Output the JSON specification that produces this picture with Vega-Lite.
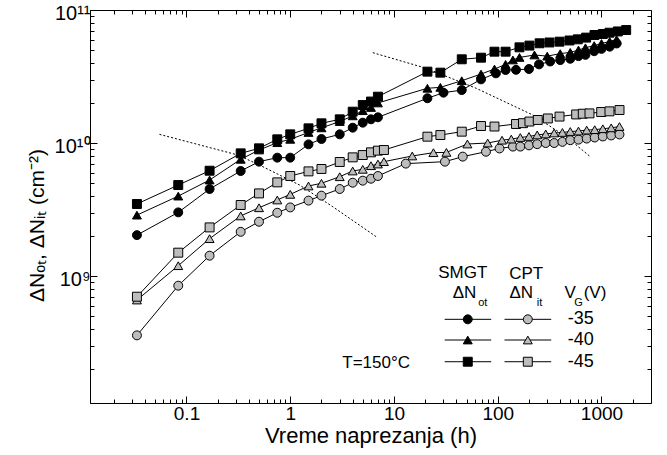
{
  "$schema": "https://vega.github.io/schema/vega-lite/v6.json",
  "width": 561,
  "height": 393,
  "autosize": "none",
  "padding": {"left": 90, "top": 10, "right": 15, "bottom": 52},
  "background": "white",
  "config": {
    "view": {"stroke": "black", "strokeWidth": 1},
    "font": "Liberation Sans"
  },
  "datasets": {
    "pts": [
      {"kind": "SMGT", "vg": "-35", "t": 0.0333, "n": 2.03e9},
      {"kind": "SMGT", "vg": "-35", "t": 0.0833, "n": 3.01e9},
      {"kind": "SMGT", "vg": "-35", "t": 0.167, "n": 4.51e9},
      {"kind": "SMGT", "vg": "-35", "t": 0.333, "n": 6.16e9},
      {"kind": "SMGT", "vg": "-35", "t": 0.5, "n": 7.24e9},
      {"kind": "SMGT", "vg": "-35", "t": 0.75, "n": 7.76e9},
      {"kind": "SMGT", "vg": "-35", "t": 1, "n": 7.76e9},
      {"kind": "SMGT", "vg": "-35", "t": 1.5, "n": 9.77e9},
      {"kind": "SMGT", "vg": "-35", "t": 2, "n": 1.072e10},
      {"kind": "SMGT", "vg": "-35", "t": 3, "n": 1.162e10},
      {"kind": "SMGT", "vg": "-35", "t": 4, "n": 1.304e10},
      {"kind": "SMGT", "vg": "-35", "t": 5, "n": 1.422e10},
      {"kind": "SMGT", "vg": "-35", "t": 6, "n": 1.507e10},
      {"kind": "SMGT", "vg": "-35", "t": 7, "n": 1.56e10},
      {"kind": "SMGT", "vg": "-35", "t": 21, "n": 2.17e10},
      {"kind": "SMGT", "vg": "-35", "t": 30, "n": 2.39e10},
      {"kind": "SMGT", "vg": "-35", "t": 45, "n": 2.5e10},
      {"kind": "SMGT", "vg": "-35", "t": 69, "n": 3.01e10},
      {"kind": "SMGT", "vg": "-35", "t": 96, "n": 3.34e10},
      {"kind": "SMGT", "vg": "-35", "t": 119, "n": 3.54e10},
      {"kind": "SMGT", "vg": "-35", "t": 150, "n": 3.55e10},
      {"kind": "SMGT", "vg": "-35", "t": 200, "n": 3.6e10},
      {"kind": "SMGT", "vg": "-35", "t": 250, "n": 3.9e10},
      {"kind": "SMGT", "vg": "-35", "t": 320, "n": 4.1e10},
      {"kind": "SMGT", "vg": "-35", "t": 400, "n": 4.2e10},
      {"kind": "SMGT", "vg": "-35", "t": 500, "n": 4.3e10},
      {"kind": "SMGT", "vg": "-35", "t": 600, "n": 4.5e10},
      {"kind": "SMGT", "vg": "-35", "t": 700, "n": 4.6e10},
      {"kind": "SMGT", "vg": "-35", "t": 850, "n": 4.9e10},
      {"kind": "SMGT", "vg": "-35", "t": 1000, "n": 5.1e10},
      {"kind": "SMGT", "vg": "-35", "t": 1200, "n": 5.3e10},
      {"kind": "SMGT", "vg": "-35", "t": 1400, "n": 5.6e10},

      {"kind": "SMGT", "vg": "-40", "t": 0.0333, "n": 2.87e9},
      {"kind": "SMGT", "vg": "-40", "t": 0.0833, "n": 3.99e9},
      {"kind": "SMGT", "vg": "-40", "t": 0.167, "n": 5.27e9},
      {"kind": "SMGT", "vg": "-40", "t": 0.333, "n": 7.54e9},
      {"kind": "SMGT", "vg": "-40", "t": 0.5, "n": 8.86e9},
      {"kind": "SMGT", "vg": "-40", "t": 0.75, "n": 1.006e10},
      {"kind": "SMGT", "vg": "-40", "t": 1, "n": 1.066e10},
      {"kind": "SMGT", "vg": "-40", "t": 1.5, "n": 1.2e10},
      {"kind": "SMGT", "vg": "-40", "t": 2, "n": 1.3e10},
      {"kind": "SMGT", "vg": "-40", "t": 3, "n": 1.45e10},
      {"kind": "SMGT", "vg": "-40", "t": 4, "n": 1.6e10},
      {"kind": "SMGT", "vg": "-40", "t": 5, "n": 1.75e10},
      {"kind": "SMGT", "vg": "-40", "t": 6, "n": 1.85e10},
      {"kind": "SMGT", "vg": "-40", "t": 7, "n": 2.0e10},
      {"kind": "SMGT", "vg": "-40", "t": 21, "n": 2.58e10},
      {"kind": "SMGT", "vg": "-40", "t": 28, "n": 2.62e10},
      {"kind": "SMGT", "vg": "-40", "t": 45, "n": 2.94e10},
      {"kind": "SMGT", "vg": "-40", "t": 69, "n": 3.3e10},
      {"kind": "SMGT", "vg": "-40", "t": 93, "n": 3.6e10},
      {"kind": "SMGT", "vg": "-40", "t": 119, "n": 3.9e10},
      {"kind": "SMGT", "vg": "-40", "t": 140, "n": 4.21e10},
      {"kind": "SMGT", "vg": "-40", "t": 162, "n": 4.4e10},
      {"kind": "SMGT", "vg": "-40", "t": 226, "n": 4.59e10},
      {"kind": "SMGT", "vg": "-40", "t": 300, "n": 4.5e10},
      {"kind": "SMGT", "vg": "-40", "t": 400, "n": 4.7e10},
      {"kind": "SMGT", "vg": "-40", "t": 500, "n": 4.8e10},
      {"kind": "SMGT", "vg": "-40", "t": 600, "n": 5.0e10},
      {"kind": "SMGT", "vg": "-40", "t": 700, "n": 5.2e10},
      {"kind": "SMGT", "vg": "-40", "t": 850, "n": 5.4e10},
      {"kind": "SMGT", "vg": "-40", "t": 1000, "n": 5.6e10},
      {"kind": "SMGT", "vg": "-40", "t": 1200, "n": 5.8e10},
      {"kind": "SMGT", "vg": "-40", "t": 1400, "n": 6.0e10},

      {"kind": "SMGT", "vg": "-45", "t": 0.0333, "n": 3.48e9},
      {"kind": "SMGT", "vg": "-45", "t": 0.0833, "n": 4.83e9},
      {"kind": "SMGT", "vg": "-45", "t": 0.167, "n": 6.19e9},
      {"kind": "SMGT", "vg": "-45", "t": 0.333, "n": 8.36e9},
      {"kind": "SMGT", "vg": "-45", "t": 0.5, "n": 9.12e9},
      {"kind": "SMGT", "vg": "-45", "t": 0.75, "n": 1.066e10},
      {"kind": "SMGT", "vg": "-45", "t": 1, "n": 1.162e10},
      {"kind": "SMGT", "vg": "-45", "t": 1.5, "n": 1.289e10},
      {"kind": "SMGT", "vg": "-45", "t": 2, "n": 1.406e10},
      {"kind": "SMGT", "vg": "-45", "t": 3, "n": 1.507e10},
      {"kind": "SMGT", "vg": "-45", "t": 4, "n": 1.72e10},
      {"kind": "SMGT", "vg": "-45", "t": 5, "n": 1.93e10},
      {"kind": "SMGT", "vg": "-45", "t": 6, "n": 2.05e10},
      {"kind": "SMGT", "vg": "-45", "t": 7, "n": 2.23e10},
      {"kind": "SMGT", "vg": "-45", "t": 21, "n": 3.44e10},
      {"kind": "SMGT", "vg": "-45", "t": 28, "n": 3.38e10},
      {"kind": "SMGT", "vg": "-45", "t": 45, "n": 4.26e10},
      {"kind": "SMGT", "vg": "-45", "t": 69, "n": 4.38e10},
      {"kind": "SMGT", "vg": "-45", "t": 93, "n": 4.86e10},
      {"kind": "SMGT", "vg": "-45", "t": 119, "n": 4.86e10},
      {"kind": "SMGT", "vg": "-45", "t": 162, "n": 5.24e10},
      {"kind": "SMGT", "vg": "-45", "t": 202, "n": 5.4e10},
      {"kind": "SMGT", "vg": "-45", "t": 253, "n": 5.62e10},
      {"kind": "SMGT", "vg": "-45", "t": 315, "n": 5.7e10},
      {"kind": "SMGT", "vg": "-45", "t": 394, "n": 5.78e10},
      {"kind": "SMGT", "vg": "-45", "t": 491, "n": 5.9e10},
      {"kind": "SMGT", "vg": "-45", "t": 591, "n": 6.02e10},
      {"kind": "SMGT", "vg": "-45", "t": 711, "n": 6.2e10},
      {"kind": "SMGT", "vg": "-45", "t": 856, "n": 6.49e10},
      {"kind": "SMGT", "vg": "-45", "t": 1030, "n": 6.6e10},
      {"kind": "SMGT", "vg": "-45", "t": 1194, "n": 6.75e10},
      {"kind": "SMGT", "vg": "-45", "t": 1437, "n": 6.9e10},
      {"kind": "SMGT", "vg": "-45", "t": 1729, "n": 7.07e10},

      {"kind": "CPT", "vg": "-35", "t": 0.0333, "n": 3.58e8},
      {"kind": "CPT", "vg": "-35", "t": 0.0833, "n": 8.46e8},
      {"kind": "CPT", "vg": "-35", "t": 0.167, "n": 1.422e9},
      {"kind": "CPT", "vg": "-35", "t": 0.333, "n": 2.15e9},
      {"kind": "CPT", "vg": "-35", "t": 0.5, "n": 2.56e9},
      {"kind": "CPT", "vg": "-35", "t": 0.75, "n": 2.99e9},
      {"kind": "CPT", "vg": "-35", "t": 1, "n": 3.28e9},
      {"kind": "CPT", "vg": "-35", "t": 1.5, "n": 3.69e9},
      {"kind": "CPT", "vg": "-35", "t": 2, "n": 4.02e9},
      {"kind": "CPT", "vg": "-35", "t": 3, "n": 4.51e9},
      {"kind": "CPT", "vg": "-35", "t": 4, "n": 5.03e9},
      {"kind": "CPT", "vg": "-35", "t": 5, "n": 5.21e9},
      {"kind": "CPT", "vg": "-35", "t": 6, "n": 5.39e9},
      {"kind": "CPT", "vg": "-35", "t": 7, "n": 5.65e9},
      {"kind": "CPT", "vg": "-35", "t": 13, "n": 7.0e9},
      {"kind": "CPT", "vg": "-35", "t": 31, "n": 7.24e9},
      {"kind": "CPT", "vg": "-35", "t": 46, "n": 7.9e9},
      {"kind": "CPT", "vg": "-35", "t": 77, "n": 8.6e9},
      {"kind": "CPT", "vg": "-35", "t": 104, "n": 9.1e9},
      {"kind": "CPT", "vg": "-35", "t": 140, "n": 9.4e9},
      {"kind": "CPT", "vg": "-35", "t": 165, "n": 9.4e9},
      {"kind": "CPT", "vg": "-35", "t": 200, "n": 9.6e9},
      {"kind": "CPT", "vg": "-35", "t": 240, "n": 9.8e9},
      {"kind": "CPT", "vg": "-35", "t": 290, "n": 1.0e10},
      {"kind": "CPT", "vg": "-35", "t": 350, "n": 1.0e10},
      {"kind": "CPT", "vg": "-35", "t": 420, "n": 1.02e10},
      {"kind": "CPT", "vg": "-35", "t": 500, "n": 1.05e10},
      {"kind": "CPT", "vg": "-35", "t": 600, "n": 1.06e10},
      {"kind": "CPT", "vg": "-35", "t": 720, "n": 1.08e10},
      {"kind": "CPT", "vg": "-35", "t": 860, "n": 1.1e10},
      {"kind": "CPT", "vg": "-35", "t": 1030, "n": 1.12e10},
      {"kind": "CPT", "vg": "-35", "t": 1240, "n": 1.14e10},
      {"kind": "CPT", "vg": "-35", "t": 1490, "n": 1.16e10},

      {"kind": "CPT", "vg": "-40", "t": 0.0333, "n": 6.6e8},
      {"kind": "CPT", "vg": "-40", "t": 0.0833, "n": 1.196e9},
      {"kind": "CPT", "vg": "-40", "t": 0.167, "n": 1.909e9},
      {"kind": "CPT", "vg": "-40", "t": 0.333, "n": 2.83e9},
      {"kind": "CPT", "vg": "-40", "t": 0.5, "n": 3.26e9},
      {"kind": "CPT", "vg": "-40", "t": 0.75, "n": 3.73e9},
      {"kind": "CPT", "vg": "-40", "t": 1, "n": 4.11e9},
      {"kind": "CPT", "vg": "-40", "t": 1.5, "n": 4.75e9},
      {"kind": "CPT", "vg": "-40", "t": 2, "n": 4.98e9},
      {"kind": "CPT", "vg": "-40", "t": 3, "n": 5.58e9},
      {"kind": "CPT", "vg": "-40", "t": 4, "n": 6.16e9},
      {"kind": "CPT", "vg": "-40", "t": 5, "n": 6.34e9},
      {"kind": "CPT", "vg": "-40", "t": 6, "n": 6.75e9},
      {"kind": "CPT", "vg": "-40", "t": 7, "n": 6.95e9},
      {"kind": "CPT", "vg": "-40", "t": 8, "n": 7.24e9},
      {"kind": "CPT", "vg": "-40", "t": 15, "n": 7.99e9},
      {"kind": "CPT", "vg": "-40", "t": 24, "n": 8.46e9},
      {"kind": "CPT", "vg": "-40", "t": 32, "n": 8.5e9},
      {"kind": "CPT", "vg": "-40", "t": 51, "n": 9.83e9},
      {"kind": "CPT", "vg": "-40", "t": 80, "n": 1.0e10},
      {"kind": "CPT", "vg": "-40", "t": 110, "n": 1.05e10},
      {"kind": "CPT", "vg": "-40", "t": 135, "n": 1.07e10},
      {"kind": "CPT", "vg": "-40", "t": 165, "n": 1.1e10},
      {"kind": "CPT", "vg": "-40", "t": 200, "n": 1.12e10},
      {"kind": "CPT", "vg": "-40", "t": 240, "n": 1.15e10},
      {"kind": "CPT", "vg": "-40", "t": 290, "n": 1.17e10},
      {"kind": "CPT", "vg": "-40", "t": 350, "n": 1.19e10},
      {"kind": "CPT", "vg": "-40", "t": 420, "n": 1.2e10},
      {"kind": "CPT", "vg": "-40", "t": 500, "n": 1.22e10},
      {"kind": "CPT", "vg": "-40", "t": 600, "n": 1.23e10},
      {"kind": "CPT", "vg": "-40", "t": 720, "n": 1.25e10},
      {"kind": "CPT", "vg": "-40", "t": 860, "n": 1.26e10},
      {"kind": "CPT", "vg": "-40", "t": 1030, "n": 1.28e10},
      {"kind": "CPT", "vg": "-40", "t": 1240, "n": 1.3e10},
      {"kind": "CPT", "vg": "-40", "t": 1490, "n": 1.33e10},

      {"kind": "CPT", "vg": "-45", "t": 0.0333, "n": 6.99e8},
      {"kind": "CPT", "vg": "-45", "t": 0.0833, "n": 1.498e9},
      {"kind": "CPT", "vg": "-45", "t": 0.167, "n": 2.32e9},
      {"kind": "CPT", "vg": "-45", "t": 0.333, "n": 3.42e9},
      {"kind": "CPT", "vg": "-45", "t": 0.5, "n": 4.18e9},
      {"kind": "CPT", "vg": "-45", "t": 0.75, "n": 5.06e9},
      {"kind": "CPT", "vg": "-45", "t": 1, "n": 5.65e9},
      {"kind": "CPT", "vg": "-45", "t": 1.5, "n": 6.12e9},
      {"kind": "CPT", "vg": "-45", "t": 2, "n": 6.38e9},
      {"kind": "CPT", "vg": "-45", "t": 3, "n": 7.2e9},
      {"kind": "CPT", "vg": "-45", "t": 4, "n": 7.8e9},
      {"kind": "CPT", "vg": "-45", "t": 5, "n": 8.12e9},
      {"kind": "CPT", "vg": "-45", "t": 6, "n": 8.51e9},
      {"kind": "CPT", "vg": "-45", "t": 7, "n": 8.76e9},
      {"kind": "CPT", "vg": "-45", "t": 8, "n": 8.86e9},
      {"kind": "CPT", "vg": "-45", "t": 21, "n": 1.116e10},
      {"kind": "CPT", "vg": "-45", "t": 28, "n": 1.148e10},
      {"kind": "CPT", "vg": "-45", "t": 45, "n": 1.217e10},
      {"kind": "CPT", "vg": "-45", "t": 69, "n": 1.342e10},
      {"kind": "CPT", "vg": "-45", "t": 93, "n": 1.33e10},
      {"kind": "CPT", "vg": "-45", "t": 150, "n": 1.39e10},
      {"kind": "CPT", "vg": "-45", "t": 175, "n": 1.41e10},
      {"kind": "CPT", "vg": "-45", "t": 202, "n": 1.45e10},
      {"kind": "CPT", "vg": "-45", "t": 243, "n": 1.49e10},
      {"kind": "CPT", "vg": "-45", "t": 304, "n": 1.53e10},
      {"kind": "CPT", "vg": "-45", "t": 394, "n": 1.58e10},
      {"kind": "CPT", "vg": "-45", "t": 570, "n": 1.64e10},
      {"kind": "CPT", "vg": "-45", "t": 660, "n": 1.66e10},
      {"kind": "CPT", "vg": "-45", "t": 766, "n": 1.67e10},
      {"kind": "CPT", "vg": "-45", "t": 993, "n": 1.71e10},
      {"kind": "CPT", "vg": "-45", "t": 1194, "n": 1.73e10},
      {"kind": "CPT", "vg": "-45", "t": 1492, "n": 1.77e10}
    ],
    "curves": [
      {"c": "a", "t": 0.0549, "n": 1.162e10},
      {"c": "a", "t": 0.3122, "n": 8.125e9},
      {"c": "a", "t": 0.5053, "n": 6.83e9},
      {"c": "a", "t": 1.228, "n": 4.833e9},
      {"c": "a", "t": 2.571, "n": 3.32e9},
      {"c": "a", "t": 6.735, "n": 1.975e9},
      {"c": "b", "t": 6.247, "n": 4.776e10},
      {"c": "b", "t": 20.43, "n": 3.646e10},
      {"c": "b", "t": 61.98, "n": 2.579e10},
      {"c": "b", "t": 217.7, "n": 1.624e10},
      {"c": "b", "t": 456.8, "n": 1.115e10},
      {"c": "b", "t": 766, "n": 7.986e9}
    ],
    "legpts": [
      {"kind": "SMGT", "vg": "-35", "t": 51.4, "n": 4.725e8},
      {"kind": "SMGT", "vg": "-40", "t": 51.4, "n": 3.303e8},
      {"kind": "SMGT", "vg": "-45", "t": 51.4, "n": 2.268e8},
      {"kind": "CPT", "vg": "-35", "t": 194.9, "n": 4.725e8},
      {"kind": "CPT", "vg": "-40", "t": 194.9, "n": 3.303e8},
      {"kind": "CPT", "vg": "-45", "t": 194.9, "n": 2.268e8}
    ],
    "leglines": [
      {"t": 30.8, "t2": 86.5, "n": 4.725e8},
      {"t": 30.8, "t2": 86.5, "n": 3.303e8},
      {"t": 30.8, "t2": 86.5, "n": 2.268e8},
      {"t": 116.2, "t2": 327.6, "n": 4.725e8},
      {"t": 116.2, "t2": 327.6, "n": 3.303e8},
      {"t": 116.2, "t2": 327.6, "n": 2.268e8}
    ],
    "legtext": [
      {"label": "SMGT", "t": 46.0, "n": 1.047e9},
      {"label": "CPT", "t": 188, "n": 1.035e9},
      {"label": "ΔN", "t": 47.8, "n": 7.49e8},
      {"label": "ΔN", "t": 168.3, "n": 7.49e8},
      {"label": "V", "t": 500, "n": 7.49e8},
      {"label": "(V)", "t": 866, "n": 7.49e8},
      {"label": "T=150°C", "t": 6.73, "n": 2.206e8}
    ],
    "legsub": [
      {"label": "ot", "t": 71.8, "n": 6.3e8},
      {"label": "it", "t": 252.6, "n": 6.3e8},
      {"label": "G", "t": 600, "n": 6.3e8}
    ],
    "legvals": [
      {"label": "-35", "t": 473, "n": 4.725e8},
      {"label": "-40", "t": 473, "n": 3.303e8},
      {"label": "-45", "t": 473, "n": 2.268e8}
    ]
  },
  "layer": [
    {
      "data": {"name": "curves"},
      "mark": {"type": "line", "color": "black", "strokeWidth": 1, "strokeDash": [2, 2]},
      "encoding": {
        "x": {"field": "t", "type": "quantitative", "scale": {"type": "log", "domain": [0.01175, 3000], "nice": false},
          "axis": {"orient": "top", "title": null, "labels": false, "grid": false, "domain": false,
            "values": [0.02,0.03,0.04,0.05,0.06,0.07,0.08,0.09,0.1,0.2,0.3,0.4,0.5,0.6,0.7,0.8,0.9,1,2,3,4,5,6,7,8,9,10,20,30,40,50,60,70,80,90,100,200,300,400,500,600,700,800,900,1000,2000],
            "tickColor": "black", "tickWidth": 1,
            "tickSize": {"condition": {"test": "datum.value == 0.1 || datum.value == 1 || datum.value == 10 || datum.value == 100 || datum.value == 1000", "value": -7}, "value": -4}}},
        "y": {"field": "n", "type": "quantitative", "scale": {"type": "log", "domain": [1.11e8, 1e11], "nice": false},
          "axis": {"orient": "right", "title": null, "labels": false, "grid": false, "domain": false,
            "values": [2e8,3e8,4e8,5e8,6e8,7e8,8e8,9e8,1e9,2e9,3e9,4e9,5e9,6e9,7e9,8e9,9e9,1e10,2e10,3e10,4e10,5e10,6e10,7e10,8e10,9e10,1e11],
            "tickColor": "black", "tickWidth": 1,
            "tickSize": {"condition": {"test": "datum.value == 1e9 || datum.value == 1e10 || datum.value == 1e11", "value": -7}, "value": -4}}},
        "detail": {"field": "c"}
      }
    },
    {
      "data": {"name": "pts"},
      "mark": {"type": "line", "color": "black", "strokeWidth": 1},
      "encoding": {
        "x": {"field": "t", "type": "quantitative", "scale": {"type": "log", "domain": [0.01175, 3000], "nice": false},
          "axis": {"orient": "bottom", "title": "Vreme naprezanja (h)", "grid": false, "domainColor": "black", "domainWidth": 1,
            "values": [0.02,0.03,0.04,0.05,0.06,0.07,0.08,0.09,0.1,0.2,0.3,0.4,0.5,0.6,0.7,0.8,0.9,1,2,3,4,5,6,7,8,9,10,20,30,40,50,60,70,80,90,100,200,300,400,500,600,700,800,900,1000,2000],
            "labelExpr": "datum.value == 0.1 || datum.value == 1 || datum.value == 10 || datum.value == 100 || datum.value == 1000 ? '' + datum.value : ''",
            "tickColor": "black", "tickWidth": 1,
            "tickSize": {"condition": {"test": "datum.value == 0.1 || datum.value == 1 || datum.value == 10 || datum.value == 100 || datum.value == 1000", "value": -7}, "value": -4},
            "labelFont": "Liberation Sans", "labelFontSize": 19, "labelColor": "black", "labelPadding": 8, "labelFlush": false,
            "titleFont": "Liberation Sans", "titleFontSize": 22, "titleFontWeight": "normal", "titleColor": "black", "titlePadding": 2}},
        "y": {"field": "n", "type": "quantitative", "scale": {"type": "log", "domain": [1.11e8, 1e11], "nice": false},
          "axis": {"orient": "left", "title": "ΔNₒₜ, ΔNᵢₜ (cm⁻²)", "grid": false, "domainColor": "black", "domainWidth": 1,
            "values": [2e8,3e8,4e8,5e8,6e8,7e8,8e8,9e8,1e9,2e9,3e9,4e9,5e9,6e9,7e9,8e9,9e9,1e10,2e10,3e10,4e10,5e10,6e10,7e10,8e10,9e10,1e11],
            "labelExpr": "datum.value == 1e9 ? '10⁹' : datum.value == 1e10 ? '10¹⁰' : datum.value == 1e11 ? '10¹¹' : ''",
            "tickColor": "black", "tickWidth": 1,
            "tickSize": {"condition": {"test": "datum.value == 1e9 || datum.value == 1e10 || datum.value == 1e11", "value": -7}, "value": -4},
            "labelFont": "Liberation Sans", "labelFontSize": 20, "labelColor": "black", "labelPadding": 7, "labelFlush": false, "labelOffset": 3,
            "titleFont": "Liberation Sans", "titleFontSize": 21, "titleFontWeight": "normal", "titleColor": "black", "titlePadding": 7, "titleY": 215}},
        "detail": [{"field": "kind"}, {"field": "vg"}]
      }
    },
    {
      "data": {"name": "leglines"},
      "mark": {"type": "rule", "color": "black", "strokeWidth": 1},
      "encoding": {
        "x": {"field": "t", "type": "quantitative", "scale": {"type": "log", "domain": [0.01175, 3000], "nice": false}, "axis": null},
        "x2": {"field": "t2"},
        "y": {"field": "n", "type": "quantitative", "scale": {"type": "log", "domain": [1.11e8, 1e11], "nice": false}, "axis": null}
      }
    },
    {
      "data": {"name": "pts"},
      "mark": {"type": "point", "filled": true, "stroke": "black", "strokeWidth": 1, "size": 80, "opacity": 1},
      "encoding": {
        "x": {"field": "t", "type": "quantitative", "scale": {"type": "log", "domain": [0.01175, 3000], "nice": false}, "axis": null},
        "y": {"field": "n", "type": "quantitative", "scale": {"type": "log", "domain": [1.11e8, 1e11], "nice": false}, "axis": null},
        "shape": {"field": "vg", "type": "nominal", "scale": {"domain": ["-35", "-40", "-45"], "range": ["circle", "triangle-up", "square"]}, "legend": null},
        "fill": {"field": "kind", "type": "nominal", "scale": {"domain": ["SMGT", "CPT"], "range": ["#000000", "#bdbdbd"]}, "legend": null}
      }
    },
    {
      "data": {"name": "legpts"},
      "mark": {"type": "point", "filled": true, "stroke": "black", "strokeWidth": 1, "size": 80, "opacity": 1},
      "encoding": {
        "x": {"field": "t", "type": "quantitative", "scale": {"type": "log", "domain": [0.01175, 3000], "nice": false}, "axis": null},
        "y": {"field": "n", "type": "quantitative", "scale": {"type": "log", "domain": [1.11e8, 1e11], "nice": false}, "axis": null},
        "shape": {"field": "vg", "type": "nominal", "legend": null},
        "fill": {"field": "kind", "type": "nominal", "legend": null}
      }
    },
    {
      "data": {"name": "legtext"},
      "mark": {"type": "text", "font": "Liberation Sans", "fontSize": 17, "color": "black", "align": "center", "baseline": "middle"},
      "encoding": {
        "x": {"field": "t", "type": "quantitative", "scale": {"type": "log", "domain": [0.01175, 3000], "nice": false}, "axis": null},
        "y": {"field": "n", "type": "quantitative", "scale": {"type": "log", "domain": [1.11e8, 1e11], "nice": false}, "axis": null},
        "text": {"field": "label"}
      }
    },
    {
      "data": {"name": "legsub"},
      "mark": {"type": "text", "font": "Liberation Sans", "fontSize": 11, "color": "black", "align": "center", "baseline": "middle"},
      "encoding": {
        "x": {"field": "t", "type": "quantitative", "scale": {"type": "log", "domain": [0.01175, 3000], "nice": false}, "axis": null},
        "y": {"field": "n", "type": "quantitative", "scale": {"type": "log", "domain": [1.11e8, 1e11], "nice": false}, "axis": null},
        "text": {"field": "label"}
      }
    },
    {
      "data": {"name": "legvals"},
      "mark": {"type": "text", "font": "Liberation Sans", "fontSize": 18, "color": "black", "align": "left", "baseline": "middle"},
      "encoding": {
        "x": {"field": "t", "type": "quantitative", "scale": {"type": "log", "domain": [0.01175, 3000], "nice": false}, "axis": null},
        "y": {"field": "n", "type": "quantitative", "scale": {"type": "log", "domain": [1.11e8, 1e11], "nice": false}, "axis": null},
        "text": {"field": "label"}
      }
    }
  ],
  "resolve": {"axis": {"x": "independent", "y": "independent"}}
}
